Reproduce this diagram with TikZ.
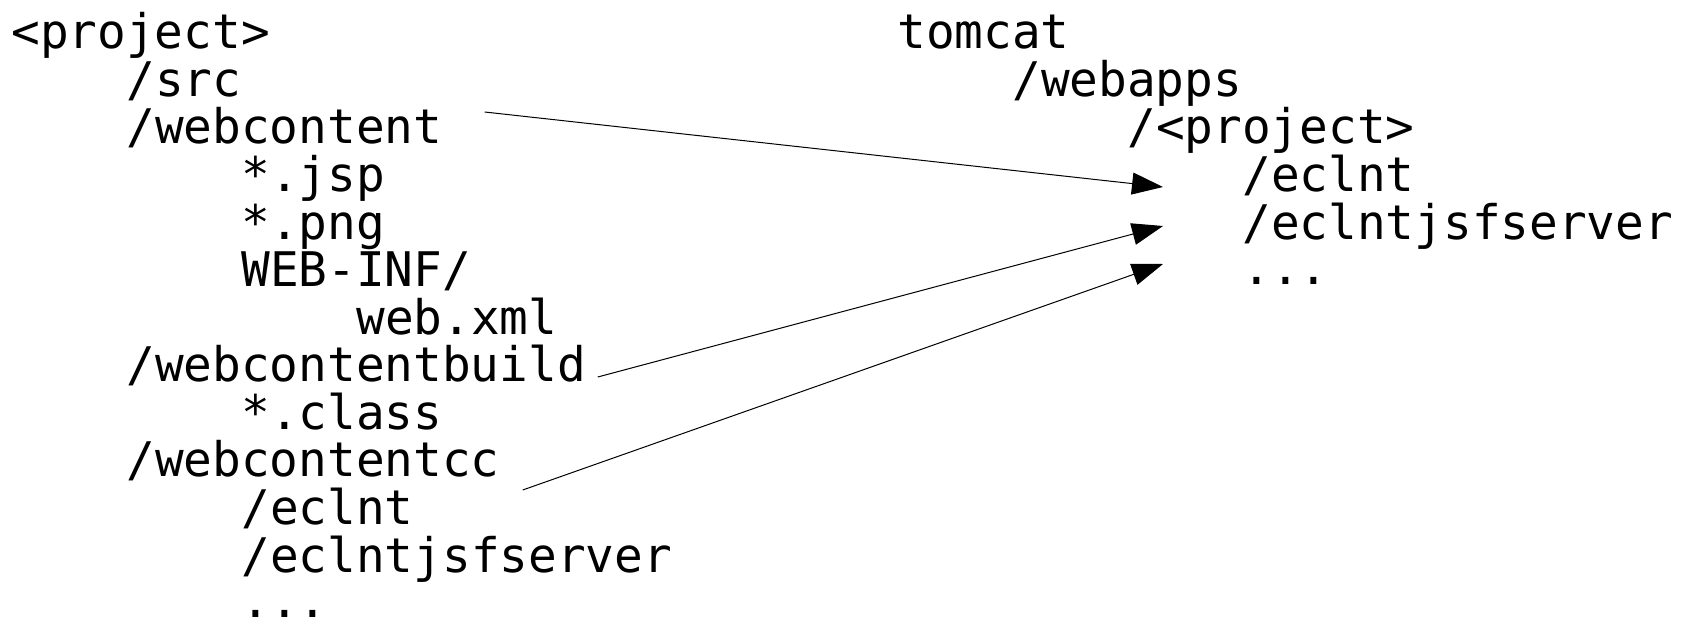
\documentclass[tikz,border=0pt]{standalone}
\usepackage{fontspec}
\setmonofont{DejaVu Sans Mono}
\usetikzlibrary{arrows.meta}

\begin{document}
\begin{tikzpicture}[
    x=0.5pt, y=-0.5pt,
    path/.style={anchor=base west, inner sep=0pt, font=\ttfamily\fontsize{23.85pt}{23.85pt}\selectfont},
    link/.style={draw, line width=0.5pt, -{Triangle[length=15.5pt, width=11pt]}}
]
\useasboundingbox (0,0) rectangle (1693,626);

% Project tree
\node [path] (project)  at (11,49)    {<project>};
\node [path] (src)      at (126,96.5) {/src};
\node [path] (webcontent) at (126,144) {/webcontent};
\node [path] (jsp)      at (241,191.5) {*.jsp};
\node [path] (png)      at (241,239)  {*.png};
\node [path] (webinf)   at (241,286.5) {WEB-INF/};
\node [path] (webxml)   at (356,334)  {web.xml};
\node [path] (build)    at (126,381.5) {/webcontentbuild};
\node [path] (classes)  at (241,429)  {*.class};
\node [path] (cc)       at (126,476.5) {/webcontentcc};
\node [path] (cceclnt)  at (241,524)  {/eclnt};
\node [path] (ccjsf)    at (241,572.5) {/eclntjsfserver};
\node [path] (ccdots)   at (241,617)  {...};

% Tomcat tree
\node [path] (tomcat)   at (897,49)   {tomcat};
\node [path] (webapps)  at (1012,96.5) {/webapps};
\node [path] (tproject) at (1127,144) {/<project>};
\node [path] (eclnt)    at (1242,191.5) {/eclnt};
\node [path] (jsf)      at (1242,239) {/eclntjsfserver};
\node [path] (dots)     at (1242,284) {...};

% Deployment arrows
\draw [link] ([shift={(42,-32)}]webcontent.base east) -- ([shift={(-79,-4.5)}]eclnt.base west);
\draw [link] ([shift={(11.5,-4.5)}]build.base east) -- ([shift={(-79,-13)}]jsf.base west);
\draw [link] ([shift={(22.6,13.5)}]cc.base east) -- ([shift={(-79,-20)}]dots.base west);

\end{tikzpicture}
\end{document}
